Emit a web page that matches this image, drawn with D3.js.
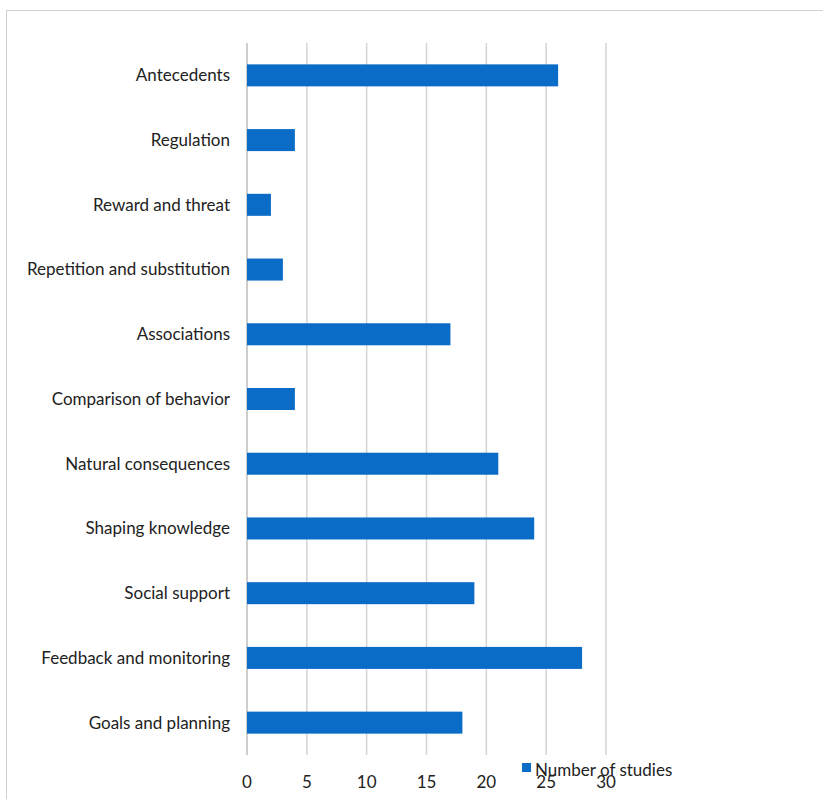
<!DOCTYPE html>
<html>
<head>
<meta charset="utf-8">
<script src="https://cdn.jsdelivr.net/npm/d3@7"></script>
<style>
  body { margin: 0; background: #fff; }
  svg text { font-family: Lato, "Open Sans", sans-serif; fill: #222; }
</style>
</head>
<body>
<div class="canvas"></div>
<script>
// data, top to bottom as in the chart
const categories = [
  'Antecedents', 'Regulation', 'Reward and threat', 'Repetition and substitution',
  'Associations', 'Comparison of behavior', 'Natural consequences',
  'Shaping knowledge', 'Social support', 'Feedback and monitoring', 'Goals and planning'
];
const studies = [26, 4, 2, 3, 17, 4, 21, 24, 19, 28, 18];
const xTicks = [0, 5, 10, 15, 20, 25, 30];
const seriesName = 'Number of studies';

const dimension = { width: 823, height: 799 };
const plot = { left: 247, right: 606, top: 43, bottom: 755 };

const svg = d3
  .select('.canvas')
  .append('svg')
  .attr('width', dimension.width)
  .attr('height', dimension.height);

// outer frame
svg.append('rect')
  .attr('x', 6.5).attr('y', 10.5)
  .attr('width', 830).attr('height', 800)
  .attr('fill', 'none')
  .attr('stroke', '#d0d0d0');

const x = d3.scaleLinear().domain([0, 30]).range([plot.left, plot.right]);
const y = d3.scaleBand()
  .domain(categories)
  .range([plot.top, plot.bottom])
  .paddingInner(0.66)
  .paddingOuter(0.33);

// gridlines
svg.append('g')
  .selectAll('line')
  .data(xTicks)
  .enter()
  .append('line')
  .attr('x1', d => x(d)).attr('x2', d => x(d))
  .attr('y1', plot.top).attr('y2', plot.bottom)
  .attr('stroke', d => d === 0 ? '#bdbdbd' : '#d4d4d4')
  .attr('stroke-width', 1.5);

// bars
svg.append('g')
  .selectAll('rect')
  .data(studies)
  .enter()
  .append('rect')
  .attr('x', x(0))
  .attr('y', (d, i) => y(categories[i]))
  .attr('width', d => x(d) - x(0))
  .attr('height', y.bandwidth())
  .attr('fill', '#0a6cc6');

// category labels
svg.append('g')
  .selectAll('text')
  .data(categories)
  .enter()
  .append('text')
  .attr('x', 230)
  .attr('y', d => y(d) + y.bandwidth() / 2)
  .attr('dy', '0.35em')
  .attr('text-anchor', 'end')
  .attr('font-size', 17)
  .text(d => d);

// x tick labels
svg.append('g')
  .selectAll('text')
  .data(xTicks)
  .enter()
  .append('text')
  .attr('x', d => x(d))
  .attr('y', 788)
  .attr('text-anchor', 'middle')
  .attr('font-size', 17)
  .text(d => d);

// legend
const legend = svg.append('g').attr('transform', 'translate(522, 763)');
legend.append('rect')
  .attr('width', 9).attr('height', 9)
  .attr('fill', '#0a6cc6');
legend.append('text')
  .attr('x', 13).attr('y', 13)
  .attr('font-size', 17)
  .text(seriesName);
</script>
</body>
</html>
